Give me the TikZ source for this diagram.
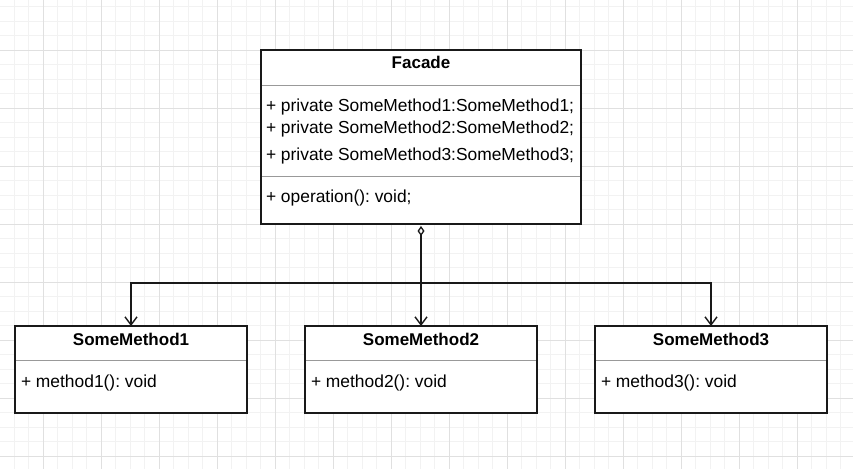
\documentclass[tikz,border=0pt]{standalone}
\usepackage{fontspec}
\setmainfont{Liberation Sans}
\usetikzlibrary{arrows.meta}
\frenchspacing
\begin{document}
\begin{tikzpicture}[x=1pt,y=-1pt,
  minorgrid/.style={draw=black!5,line width=0.8pt},
  majorgrid/.style={draw=black!12,line width=0.9pt},
  umlbox/.style={draw=black!90,line width=1.6pt,fill=white,inner sep=0,outer sep=0,rectangle},
  divider/.style={draw=black!40,line width=1pt},
  conn/.style={draw=black!90,line width=1.4pt},
  vee/.style={-{Straight Barb[length=8pt,width=12pt,line width=1.4pt]}},
  txt/.style={inner sep=0,outer sep=0,anchor=base west,font=\fontsize{17.4}{20}\selectfont},
  ttl/.style={inner sep=0,outer sep=0,anchor=base,font=\fontsize{17}{20}\selectfont\bfseries}]
\useasboundingbox (0,0) rectangle (853,469);
\fill[white] (0,0) rectangle (853,469);
% grid
\foreach \i in {0,...,59} {\draw[minorgrid] ({-0.5+14.5*\i},0) -- ({-0.5+14.5*\i},469);}
\foreach \i in {0,...,32} {\draw[minorgrid] (0,{6.5+14.5*\i}) -- (853,{6.5+14.5*\i});}
\foreach \i in {0,...,14} {\draw[majorgrid] ({43+58*\i},0) -- ({43+58*\i},469);}
\foreach \i in {0,...,7} {\draw[majorgrid] (0,{50+58*\i}) -- (853,{50+58*\i});}
% boxes
\node[umlbox,minimum width=320pt,minimum height=174pt] (facade) at (421,137) {};
\node[umlbox,minimum width=232pt,minimum height=87pt] (sm1) at (131,369.5) {};
\node[umlbox,minimum width=232pt,minimum height=87pt] (sm2) at (421,369.5) {};
\node[umlbox,minimum width=232pt,minimum height=87pt] (sm3) at (711,369.5) {};
% dividers
\draw[divider] ([xshift=0.8pt]facade.west |- 0,85.7) -- ([xshift=-0.8pt]facade.east |- 0,85.7);
\draw[divider] ([xshift=0.8pt]facade.west |- 0,176.7) -- ([xshift=-0.8pt]facade.east |- 0,176.7);
\foreach \b in {sm1,sm2,sm3} {\draw[divider] ([xshift=0.8pt]\b.west |- 0,360.7) -- ([xshift=-0.8pt]\b.east |- 0,360.7);}
% texts
\node[ttl] (ft) at (421,68.3) {Facade};
\node[txt] (fa1) at (266,111.7) {+ private SomeMethod1:SomeMethod1;};
\node[txt] (fa2) at (266,133.3) {+ private SomeMethod2:SomeMethod2;};
\node[txt] (fa3) at (266,160.7) {+ private SomeMethod3:SomeMethod3;};
\node[txt] (fop) at (266,202.3) {+ operation(): void;};
\node[ttl] (t1) at (131,345) {SomeMethod1};
\node[ttl] (t2) at (421,345) {SomeMethod2};
\node[ttl] (t3) at (711,345) {SomeMethod3};
\node[txt] (m1) at (21,387) {+ method1(): void};
\node[txt] (m2) at (311,387) {+ method2(): void};
\node[txt] (m3) at (601,387) {+ method3(): void};
% connectors
\coordinate (j) at (421,283);
\draw[conn,{Diamond[open,length=10pt,width=7pt,line width=1.3pt]}-{Straight Barb[length=8pt,width=12pt,line width=1.4pt]},shorten <=2pt] (facade.south) -- (sm2.north);
\draw[conn,vee] (j) -| (sm1.north);
\draw[conn,vee] (j) -| (sm3.north);
\end{tikzpicture}
\end{document}
